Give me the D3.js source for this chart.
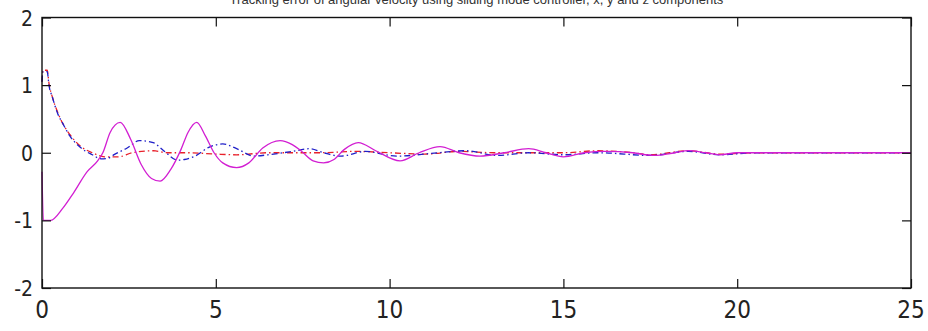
<!DOCTYPE html>
<html>
<head>
<meta charset="utf-8">
<script src="https://cdn.jsdelivr.net/npm/d3@7"></script>
<style>
  html, body { margin: 0; padding: 0; background: #fff; }
  svg { display: block; }
  .tick-label { font-family: "Liberation Sans Narrow", "DejaVu Sans Condensed", "Liberation Sans", sans-serif; fill: #222; }
</style>
</head>
<body>
<svg id="chart" width="928" height="331"></svg>
<script>
// ---- data ----
const titleText = "Tracking error of angular velocity using sliding mode controller, x, y and z components";
const xTicks = [0, 5, 10, 15, 20, 25];
const yTicks = [-2, -1, 0, 1, 2];

const tRed = [0, 0.03, 0.15, 0.2, 0.3, 0.45, 0.6, 0.8, 1.1, 1.45, 1.8, 2.2, 2.6, 3.2, 3.6, 4.2, 5.0, 5.6, 6.5, 8, 9, 10, 11, 12, 13, 14, 15, 16, 17, 17.5, 18.6, 19.5, 20.5, 25];
const red  = [1.05, 1.22, 1.22, 1.03, 0.82, 0.6, 0.43, 0.27, 0.1, 0.0, -0.06, -0.06, 0.0, 0.03, 0.0, 0.0, -0.02, -0.03, 0.0, 0.0, 0.02, 0.0, -0.02, 0.02, 0.0, 0.0, 0.0, 0.03, 0.0, -0.03, 0.03, -0.02, 0.0, 0.0];

const tBlue = [0, 0.03, 0.15, 0.2, 0.3, 0.45, 0.6, 0.8, 1.1, 1.45, 1.7, 1.9, 2.1, 2.45, 2.8, 3.2, 3.5, 3.9, 4.1, 4.4, 4.8, 5.2, 5.6, 6.1, 6.5, 7.2, 7.7, 8.1, 8.6, 9.3, 10.2, 11.4, 12.2, 13.1, 14.0, 15.0, 16, 17.5, 18.6, 19.5, 20.5, 25];
const blue  = [1.05, 1.2, 1.2, 1.0, 0.82, 0.58, 0.43, 0.25, 0.08, -0.03, -0.09, -0.08, -0.02, 0.07, 0.18, 0.15, 0.03, -0.11, -0.1, -0.05, 0.08, 0.13, 0.06, -0.05, -0.03, 0.02, 0.06, 0.0, -0.05, 0.02, -0.05, 0.0, 0.03, -0.04, 0.0, -0.03, 0.0, -0.04, 0.02, -0.03, 0.0, 0.0];

const tMag = [0, 0.04, 0.25, 0.6, 0.9, 1.3, 1.6, 1.75, 1.96, 2.25, 2.55, 2.85, 3.15, 3.4, 3.7, 4.0, 4.2, 4.45, 4.7, 4.95, 5.2, 5.6, 5.95, 6.35, 6.85, 7.2, 7.45, 7.8, 8.1, 8.4, 8.7, 9.1, 9.6, 10.3, 10.85, 11.45, 12.0, 12.6, 13.3, 14.0, 14.5, 15.0, 15.6, 16.2, 17.0, 17.6, 18.2, 18.6, 19.1, 19.5, 20.0, 25];
const mag  = [-0.28, -1.0, -1.0, -0.82, -0.6, -0.28, -0.12, 0.0, 0.3, 0.45, 0.2, -0.17, -0.38, -0.42, -0.25, 0.05, 0.3, 0.45, 0.25, 0.0, -0.15, -0.22, -0.15, 0.07, 0.18, 0.12, 0.03, -0.12, -0.15, -0.1, 0.05, 0.15, 0.03, -0.12, 0.0, 0.09, 0.0, -0.05, 0.0, 0.06, 0.0, -0.06, 0.0, 0.02, 0.0, -0.04, 0.0, 0.03, 0.0, -0.03, 0.0, 0.0];

// ---- layout ----
const svg = d3.select("#chart");
const mLeft = 42, mRight = 911, mTop = 17.5, mBottom = 288;

const x = d3.scaleLinear().domain([0, 25]).range([mLeft, mRight]);
const y = d3.scaleLinear().domain([-2, 2]).range([mBottom, mTop]);

// title (mostly cropped above the picture)
svg.append("text")
  .attr("x", (mLeft + mRight) / 2)
  .attr("y", 4)
  .attr("text-anchor", "middle")
  .attr("font-family", "Liberation Sans, Arial, sans-serif")
  .attr("font-size", 13)
  .attr("fill", "#333")
  .text(titleText);

const g = svg.append("g");

// series
const line = d3.line().x(d => x(d[0])).y(d => y(d[1])).curve(d3.curveMonotoneX);

const series = [
  { t: tRed, v: red, color: "#e8202a", dash: "6,3,1.5,3" },
  { t: tBlue, v: blue, color: "#1f1fc8", dash: "6,3,1.5,3" },
  { t: tMag, v: mag, color: "#d21ed2", dash: null }
];
series.forEach(s => {
  const pts = s.t.map((t, i) => [t, s.v[i]]);
  g.append("path")
    .datum(pts)
    .attr("fill", "none")
    .attr("stroke", s.color)
    .attr("stroke-width", 1.3)
    .attr("stroke-dasharray", s.dash)
    .attr("d", line);
});

// axes box with inward ticks
const tickLen = 9;
const axBottom = d3.axisTop(x).tickValues(xTicks).tickSize(tickLen).tickFormat("");
const axTop = d3.axisBottom(x).tickValues(xTicks).tickSize(tickLen).tickFormat("");
const axLeft = d3.axisRight(y).tickValues(yTicks).tickSize(tickLen).tickFormat("");
const axRight = d3.axisLeft(y).tickValues(yTicks).tickSize(tickLen).tickFormat("");

function styleAxis(sel) {
  sel.select(".domain").remove();
  sel.selectAll("line").attr("stroke", "#111").attr("stroke-width", 1.2);
}
svg.append("g").attr("transform", `translate(0,${mBottom})`).call(axBottom).call(styleAxis);
svg.append("g").attr("transform", `translate(0,${mTop})`).call(axTop).call(styleAxis);
svg.append("g").attr("transform", `translate(${mLeft},0)`).call(axLeft).call(styleAxis);
svg.append("g").attr("transform", `translate(${mRight},0)`).call(axRight).call(styleAxis);

svg.append("rect")
  .attr("x", mLeft).attr("y", mTop)
  .attr("width", mRight - mLeft).attr("height", mBottom - mTop)
  .attr("fill", "none").attr("stroke", "#111").attr("stroke-width", 1.4);

// tick labels
svg.selectAll(".xl").data(xTicks).enter().append("text")
  .attr("class", "tick-label")
  .attr("x", d => x(d))
  .attr("y", 318)
  .attr("text-anchor", "middle")
  .attr("font-size", 24)
  .text(d => d);

svg.selectAll(".yl").data(yTicks).enter().append("text")
  .attr("class", "tick-label")
  .attr("x", 33)
  .attr("y", d => y(d) + 8)
  .attr("text-anchor", "end")
  .attr("font-size", 21)
  .text(d => d);
</script>
</body>
</html>
